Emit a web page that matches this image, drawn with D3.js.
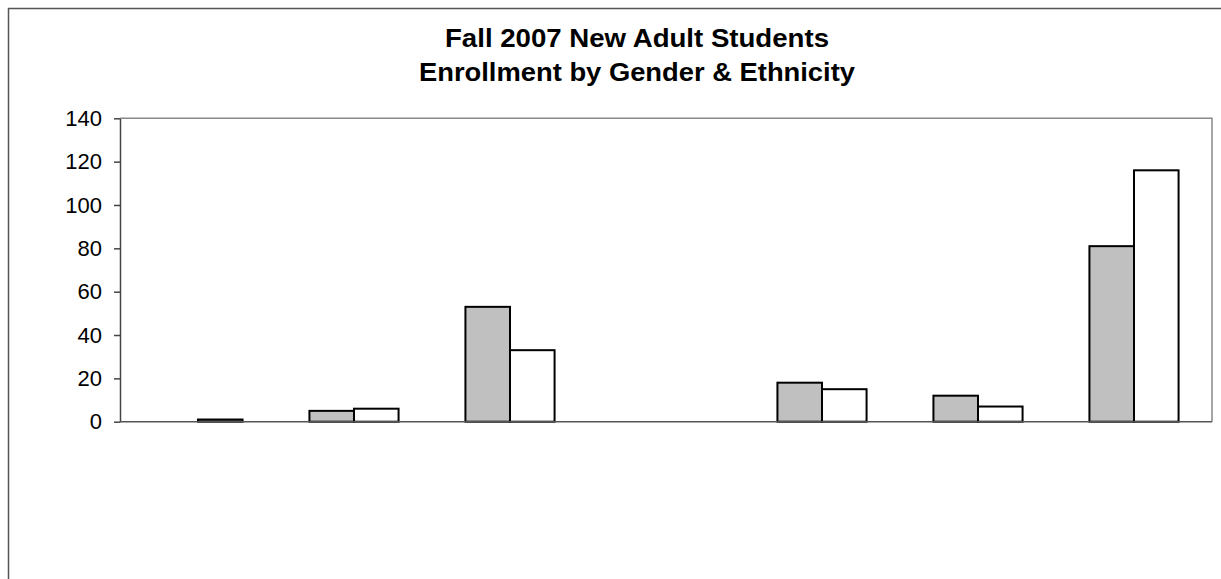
<!DOCTYPE html>
<html>
<head>
<meta charset="utf-8">
<script src="https://cdn.jsdelivr.net/npm/d3@7"></script>
<style>
  html, body { margin: 0; padding: 0; background: #fff; overflow: hidden; }
  svg { display: block; }
</style>
</head>
<body>
<svg id="chart" width="1221" height="579"></svg>
<script>
// Category labels are not visible in the picture (cut off), so plain keys here.
const categories = ['cat1', 'cat2', 'cat3', 'cat4', 'cat5', 'cat6', 'cat7'];
const seriesNames = ['grey', 'white'];
const greyValues  = [0, 5, 53, 0, 18, 12, 81];
const whiteValues = [1, 6, 33, 0, 15, 7, 116];
const yTicks = [0, 20, 40, 60, 80, 100, 120, 140];
const titleLines = ['Fall 2007 New Adult Students', 'Enrollment by Gender & Ethnicity'];

(function () {
  const sv = d3.select('#chart');
  const font = 'Arial, "Liberation Sans", sans-serif';
  const left = 120, right = 1212, top = 118.3, bottom = 421.7;

  // Outer chart frame (runs off the right and bottom of the window)
  sv.append('rect')
    .attr('x', 8.5).attr('y', 8.5).attr('width', 1262).attr('height', 600)
    .attr('fill', '#fff').attr('stroke', '#555').attr('stroke-width', 1.5);

  // Title — the original text is drawn a little wide, so stretch to its measured length
  const titleLens = [384, 436];
  titleLines.forEach((l, i) => {
    sv.append('text')
      .attr('x', 637).attr('y', 46.7 + i * 34.3)
      .attr('text-anchor', 'middle')
      .attr('font-family', font).attr('font-weight', 'bold')
      .attr('font-size', 25.5).attr('fill', '#000')
      .attr('textLength', titleLens[i]).attr('lengthAdjust', 'spacingAndGlyphs')
      .text(l);
  });

  const x0 = d3.scaleBand().domain(categories)
    .range([left, right]).paddingInner(0.4286).paddingOuter(0.2143);
  const x1 = d3.scaleBand().domain(seriesNames).range([0, x0.bandwidth()]);
  const y = d3.scaleLinear().domain([0, 140]).range([bottom, top]);

  // Plot area frame: grey on top and right
  sv.append('path')
    .attr('d', `M${left},${top}H${right}V${bottom}`)
    .attr('fill', 'none').attr('stroke', '#888').attr('stroke-width', 1.5);

  // Bars
  const rows = categories.map((c, i) => ({ c, vals: [greyValues[i], whiteValues[i]] }));
  const fills = { grey: '#c0c0c0', white: '#fff' };
  sv.append('g').selectAll('g').data(rows).join('g')
    .attr('transform', d => `translate(${x0(d.c)},0)`)
    .selectAll('rect')
    .data(d => d.vals.map((v, k) => ({ s: seriesNames[k], v })).filter(e => e.v > 0))
    .join('rect')
    .attr('x', e => x1(e.s)).attr('width', x1.bandwidth())
    .attr('y', e => y(e.v)).attr('height', e => bottom - y(e.v))
    .attr('fill', e => fills[e.s]).attr('stroke', '#000').attr('stroke-width', 2);

  // Y axis
  const ya = sv.append('g').attr('transform', `translate(${left},0)`)
    .call(d3.axisLeft(y).tickValues(yTicks).tickSize(6).tickPadding(12).tickSizeOuter(0));
  ya.select('.domain').attr('stroke', '#444').attr('stroke-width', 1.5);
  ya.selectAll('line').attr('stroke', '#444').attr('stroke-width', 1.5);
  ya.selectAll('text').attr('font-family', font).attr('font-size', 22).attr('fill', '#000');

  // X axis line
  sv.append('line')
    .attr('x1', left).attr('x2', right).attr('y1', bottom).attr('y2', bottom)
    .attr('stroke', '#555').attr('stroke-width', 1.5);
})();
</script>
</body>
</html>
